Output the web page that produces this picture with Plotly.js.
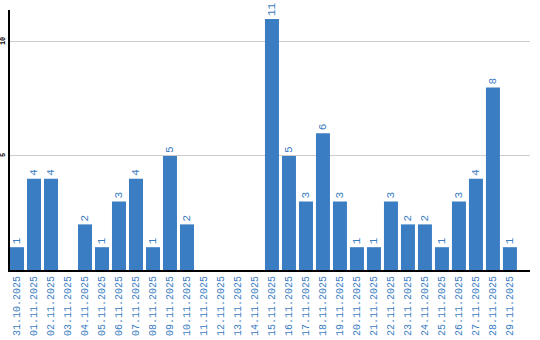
<!DOCTYPE html>
<html>
<head>
<meta charset="utf-8">
<script src="https://cdn.plot.ly/plotly-3.0.1.min.js"></script>
<style>html,body{margin:0;padding:0;background:#fff;}#chart{width:540px;height:340px;}</style>
</head>
<body>
<div id="chart"></div>
<script>
const dates = ["31.10.2025","01.11.2025","02.11.2025","03.11.2025","04.11.2025","05.11.2025","06.11.2025","07.11.2025","08.11.2025","09.11.2025","10.11.2025","11.11.2025","12.11.2025","13.11.2025","14.11.2025","15.11.2025","16.11.2025","17.11.2025","18.11.2025","19.11.2025","20.11.2025","21.11.2025","22.11.2025","23.11.2025","24.11.2025","25.11.2025","26.11.2025","27.11.2025","28.11.2025","29.11.2025"];
const counts = [1,4,4,0,2,1,3,4,1,5,2,0,0,0,0,11,5,3,6,3,1,1,3,2,2,1,3,4,8,1];
const yTicks = [5,10];

const labels = counts.map(v => v ? String(v) : "");
const blue = "#3b7dc2";
const mono = "Liberation Mono, monospace";

Plotly.newPlot("chart", [{
  type: "bar",
  x: dates,
  y: counts,
  text: labels,
  textposition: "outside",
  textangle: -90,
  constraintext: "none",
  cliponaxis: false,
  textfont: {family: mono, size: 11, color: blue},
  marker: {color: blue},
  hoverinfo: "none"
}], {
  width: 540, height: 340,
  margin: {l: 10, r: 10, t: 10, b: 70},
  paper_bgcolor: "#fff", plot_bgcolor: "#fff",
  bargap: 3/17,
  showlegend: false,
  xaxis: {
    type: "category",
    range: [-0.412, 30.18],
    tickangle: -90,
    tickfont: {family: mono, size: 10, color: blue},
    showline: true, linecolor: "#000", linewidth: 2,
    showgrid: false, ticks: "",
    automargin: false
  },
  yaxis: {
    range: [0, 11.4],
    tickvals: yTicks,
    ticktext: yTicks.map(String),
    tickangle: -90,
    tickfont: {family: mono, size: 7, color: "#000", weight: "bold"},
    showline: true, linecolor: "#000", linewidth: 2,
    showgrid: true, gridcolor: "#cccccc", gridwidth: 1,
    zeroline: false, ticks: "",
    ticklabelstandoff: 0,
    automargin: false
  }
}, {staticPlot: true, displayModeBar: false});
</script>
</body>
</html>
